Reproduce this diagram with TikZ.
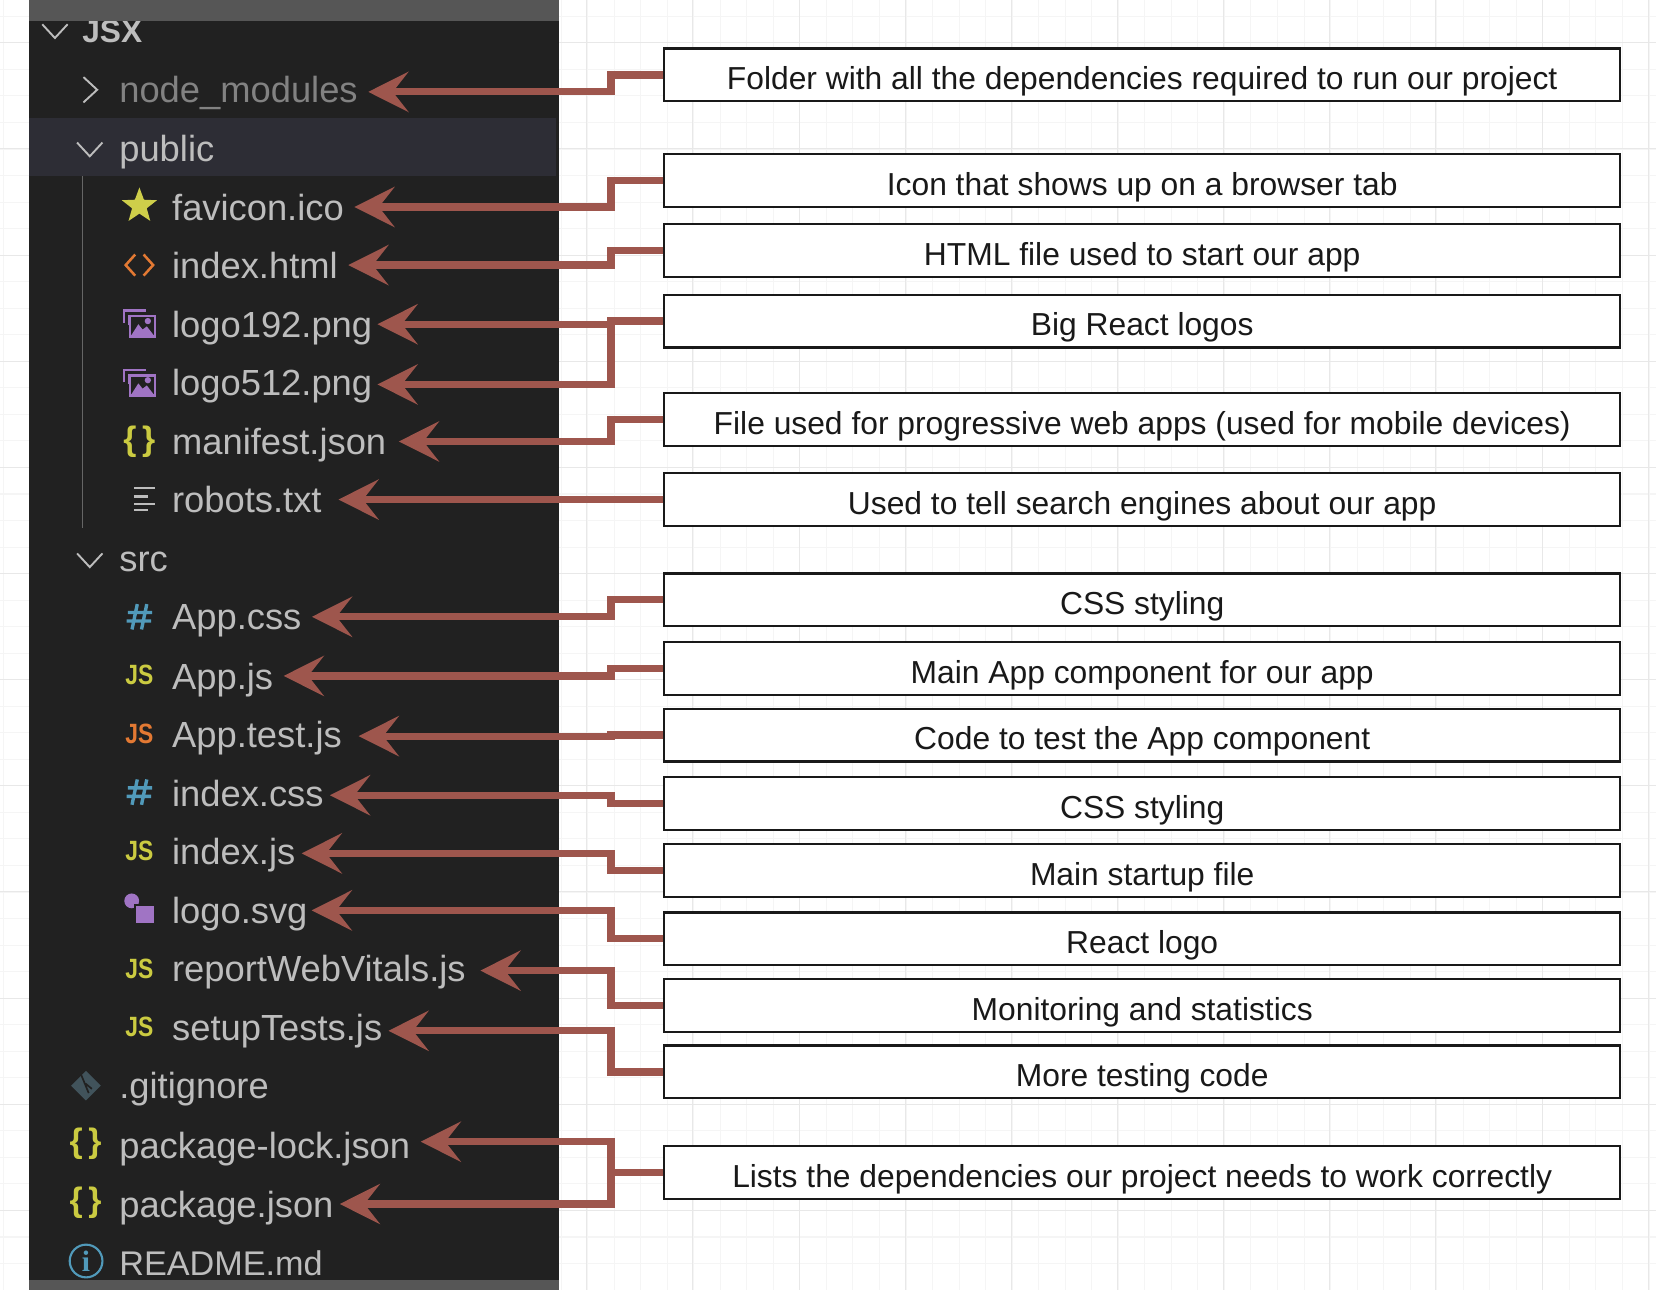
\documentclass[tikz,border=0pt]{standalone}
\usepackage{fontspec}
\setmainfont{Liberation Sans}
\newfontfamily\iconserif{Liberation Serif}
\newfontfamily\iconnarrow[FakeStretch=.82]{Liberation Sans}
\usetikzlibrary{arrows.meta,shapes.geometric}
\definecolor{panelcol}{HTML}{212121}
\definecolor{barcol}{HTML}{565656}
\definecolor{rowcol}{HTML}{2D2D35}
\definecolor{labelcol}{HTML}{BDBDBD}
\definecolor{wirecol}{HTML}{9E564D}
\definecolor{iconyellow}{HTML}{CBCB41}
\definecolor{iconorange}{HTML}{E37933}
\definecolor{iconblue}{HTML}{519ABA}
\definecolor{iconpurple}{HTML}{A074C4}
\definecolor{icongit}{HTML}{41535B}
\tikzset{
  lbl/.style={anchor=west,inner sep=0pt,outer xsep=5pt,text=labelcol,font=\fontsize{17.2}{20}\selectfont,text height=12.5pt,text depth=0pt},
  descbox/.style={draw=black!90,fill=white,line width=1.05pt,minimum width=452.5pt,minimum height=25pt,inner sep=0pt,text=black!90,font=\fontsize{15.05}{17}\selectfont,text height=14pt,text depth=0pt},
  wire/.style={draw=wirecol,line width=3.4pt,-{Stealth[length=19pt,width=19pt,inset=7.4pt]}},
  jsicon/.style={inner sep=0pt,text=iconyellow,font=\iconnarrow\bfseries\fontsize{13.2}{15}\selectfont},
  braceicon/.style={inner sep=0pt,text=iconyellow,font=\bfseries\fontsize{16}{18}\selectfont},
  chevdown/.pic={\draw[labelcol,line width=.9pt] (-12,-6)--(0,7)--(12,-6);},
  chevright/.pic={\draw[labelcol,line width=.9pt] (-6,-12)--(7,0)--(-6,12);},
  hashicon/.pic={\draw[iconblue,line width=1.6pt] (-2,-12)--(-7,12) (7,-12)--(2,12) (-11,-4)--(12,-4) (-12,4)--(11,4);},
  imgicon/.pic={
    \draw[iconpurple,line width=1pt] (-14.5,0)--(-14.5,-12)--(6,-12);
    \draw[iconpurple,line width=1pt] (-10,2)--(-10,-8);
    \draw[iconpurple,line width=1.1pt,fill=panelcol] (-9,-6.5) rectangle (15,12.5);
    \fill[iconpurple] (-8,12)--(-1,1)--(3,6)--(7,3)--(14,12)--cycle;
    \fill[iconpurple] (8,-2) circle (3);
  },
  codeicon/.pic={
    \draw[iconorange,line width=1.2pt] (-4,-10)--(-13,0)--(-4,10);
    \draw[iconorange,line width=1.2pt] (4,-10)--(13,0)--(4,10);
  },
}
\begin{document}
\begin{tikzpicture}[x=.5pt,y=-.5pt]
\useasboundingbox (0,0) rectangle (1568,1221.45);

% Sheet grid behind everything.
\foreach \gx in {0,...,62} \draw[black!4,line width=.5pt] ({3.6+25.125*\gx},0)--({3.6+25.125*\gx},1221.45);
\foreach \gy in {0,...,48} \draw[black!4,line width=.5pt] (0,{15.5+25.125*\gy})--(1568,{15.5+25.125*\gy});
\foreach \gx in {0,...,15} \draw[black!9,line width=.5pt] ({53.1+100.5*\gx},0)--({53.1+100.5*\gx},1221.45);
\foreach \gy in {0,...,12} \draw[black!9,line width=.5pt] (0,{40.5+100.5*\gy})--(1568,{40.5+100.5*\gy});

% Explorer panel.
\fill[panelcol] (27,0) rectangle (529,1221.45);
\fill[rowcol] (27,112) rectangle (526,167);
\draw[black!60,line width=.8pt] (78,167)--(78,500);

% File tree.
\node[lbl,font=\bfseries\fontsize{15}{18}\selectfont,text height=11.5pt] (lblJsx) at (68,29) {JSX};
\node[lbl,text=labelcol!62!panelcol] (lblModules) at (103,85) {node\_modules};
\node[lbl] (lblPublic) at (103,140) {public};
\node[lbl] (lblFavicon) at (153,196) {favicon.ico};
\node[lbl] (lblHtml) at (153,251) {index.html};
\node[lbl] (lblLogoA) at (153,307) {logo192.png};
\node[lbl] (lblLogoB) at (153,362) {logo512.png};
\node[lbl] (lblManifest) at (153,418) {manifest.json};
\node[lbl] (lblRobots) at (153,473) {robots.txt};
\node[lbl] (lblSrc) at (103,529) {src};
\node[lbl] (lblAppCss) at (153,584) {App.css};
\node[lbl] (lblAppJs) at (153,640) {App.js};
\node[lbl] (lblAppTest) at (153,695) {App.test.js};
\node[lbl] (lblIndexCss) at (153,751) {index.css};
\node[lbl] (lblIndexJs) at (153,806) {index.js};
\node[lbl] (lblLogoSvg) at (153,862) {logo.svg};
\node[lbl] (lblVitals) at (153,917) {reportWebVitals.js};
\node[lbl] (lblSetup) at (153,973) {setupTests.js};
\node[lbl] (lblGit) at (103,1028) {.gitignore};
\node[lbl] (lblLock) at (103,1084) {package-lock.json};
\node[lbl] (lblPackage) at (103,1140) {package.json};
\node[lbl,font=\fontsize{16.2}{20}\selectfont] (lblReadme) at (103,1195) {README.md};

% Icons.
\pic at (52,29) {chevdown};
\pic at (85,85) {chevright};
\pic at (85,141) {chevdown};
\pic at (85,530) {chevdown};
\node[star,star points=5,star point ratio=2.4,fill=iconyellow!95!white,inner sep=0pt,minimum size=17.5pt] (icoStar) at (132,195) {};
\pic at (132,251) {codeicon};
\pic at (132,306) {imgicon};
\pic at (132,362) {imgicon};
\node[braceicon] (icoManifest) at (132,418) {\{\,\}};
\draw[labelcol,line width=1.2pt] (127,462)--(147,462) (127,470)--(140,470) (127,477)--(147,477) (127,483)--(140,483);
\pic at (132,584) {hashicon};
\node[jsicon] (icoAppJs) at (132,639) {JS};
\node[jsicon,text=iconorange] (icoAppTest) at (132,695) {JS};
\pic at (132,750) {hashicon};
\node[jsicon] (icoIndexJs) at (132,806) {JS};
\fill[iconpurple] (124.7,853) circle (7);
\draw[panelcol,fill=iconpurple,line width=1pt] (128,857) rectangle (147,875);
\node[jsicon] (icoVitals) at (132,917) {JS};
\node[jsicon] (icoSetup) at (132,972) {JS};
\fill[icongit] (81.4,1014)--(95.4,1028)--(81.4,1042)--(67.4,1028)--cycle;
\draw[panelcol,line width=.8pt] (77,1018)--(84,1035) (81,1026)--(87,1031);
\node[braceicon] (icoLock) at (81,1083) {\{\,\}};
\node[braceicon] (icoPackage) at (81,1139) {\{\,\}};
\node[circle,draw=iconblue,line width=1pt,inner sep=0pt,minimum size=15.5pt,text=iconblue,font=\iconserif\bfseries\fontsize{14}{16}\selectfont] (icoReadme) at (81.5,1194) {i};

% Bars over the panel ends.
\fill[barcol] (27,0) rectangle (529,20);
\fill[barcol] (27,1212) rectangle (529,1221.45);

% Description boxes.
\node[descbox] (boxModules) at (1081.5,71) {Folder with all the dependencies required to run our project};
\node[descbox] (boxFavicon) at (1081.5,171) {Icon that shows up on a browser tab};
\node[descbox] (boxHtml) at (1081.5,237) {HTML file used to start our app};
\node[descbox] (boxLogos) at (1081.5,304) {Big React logos};
\node[descbox] (boxManifest) at (1081.5,397) {File used for progressive web apps (used for mobile devices)};
\node[descbox] (boxRobots) at (1081.5,473) {Used to tell search engines about our app};
\node[descbox] (boxAppCss) at (1081.5,568) {CSS styling};
\node[descbox] (boxAppJs) at (1081.5,633) {Main App component for our app};
\node[descbox] (boxAppTest) at (1081.5,696) {Code to test the App component};
\node[descbox] (boxIndexCss) at (1081.5,761) {CSS styling};
\node[descbox] (boxIndexJs) at (1081.5,824) {Main startup file};
\node[descbox] (boxLogoSvg) at (1081.5,889) {React logo};
\node[descbox] (boxVitals) at (1081.5,952) {Monitoring and statistics};
\node[descbox] (boxSetup) at (1081.5,1015) {More testing code};
\node[descbox] (boxPackage) at (1081.5,1110) {Lists the dependencies our project needs to work correctly};

% Connectors.
\draw[wire] (boxModules.west) -- ++(-49.5,0) |- ([yshift=-1pt]lblModules.east);
\draw[wire] (boxFavicon.west) -- ++(-49.5,0) |- (lblFavicon.east);
\draw[wire] (boxHtml.west) -- ++(-49.5,0) |- (lblHtml.east);
\draw[wire] (boxLogos.west) -- ++(-49.5,0) |- ([xshift=-2.5pt]lblLogoA.east);
\draw[wire] (boxLogos.west) -- ++(-49.5,0) |- ([xshift=-2.5pt,yshift=-1pt]lblLogoB.east);
\draw[wire] (boxManifest.west) -- ++(-49.5,0) |- ([xshift=1pt]lblManifest.east);
\draw[wire] (boxRobots.west) -- ++(-49.5,0) |- ([xshift=3pt]lblRobots.east);
\draw[wire] (boxAppCss.west) -- ++(-49.5,0) |- (lblAppCss.east);
\draw[wire] (boxAppJs.west) -- ++(-49.5,0) |- (lblAppJs.east);
\draw[wire] (boxAppTest.west) -- ++(-49.5,0) |- ([xshift=3pt,yshift=-1pt]lblAppTest.east);
\draw[wire] (boxIndexCss.west) -- ++(-49.5,0) |- ([xshift=-2pt,yshift=-1pt]lblIndexCss.east);
\draw[wire] (boxIndexJs.west) -- ++(-49.5,0) |- ([xshift=-2pt,yshift=-1pt]lblIndexJs.east);
\draw[wire] (boxLogoSvg.west) -- ++(-49.5,0) |- ([xshift=-3pt]lblLogoSvg.east);
\draw[wire] (boxVitals.west) -- ++(-49.5,0) |- ([xshift=2pt,yshift=-1pt]lblVitals.east);
\draw[wire] (boxSetup.west) -- ++(-49.5,0) |- ([xshift=-2pt,yshift=-1.5pt]lblSetup.east);
\draw[wire] (boxPackage.west) -- ++(-49.5,0) |- ([yshift=1.5pt]lblLock.east);
\draw[wire] (boxPackage.west) -- ++(-49.5,0) |- ([xshift=-2pt]lblPackage.east);
\end{tikzpicture}
\end{document}
